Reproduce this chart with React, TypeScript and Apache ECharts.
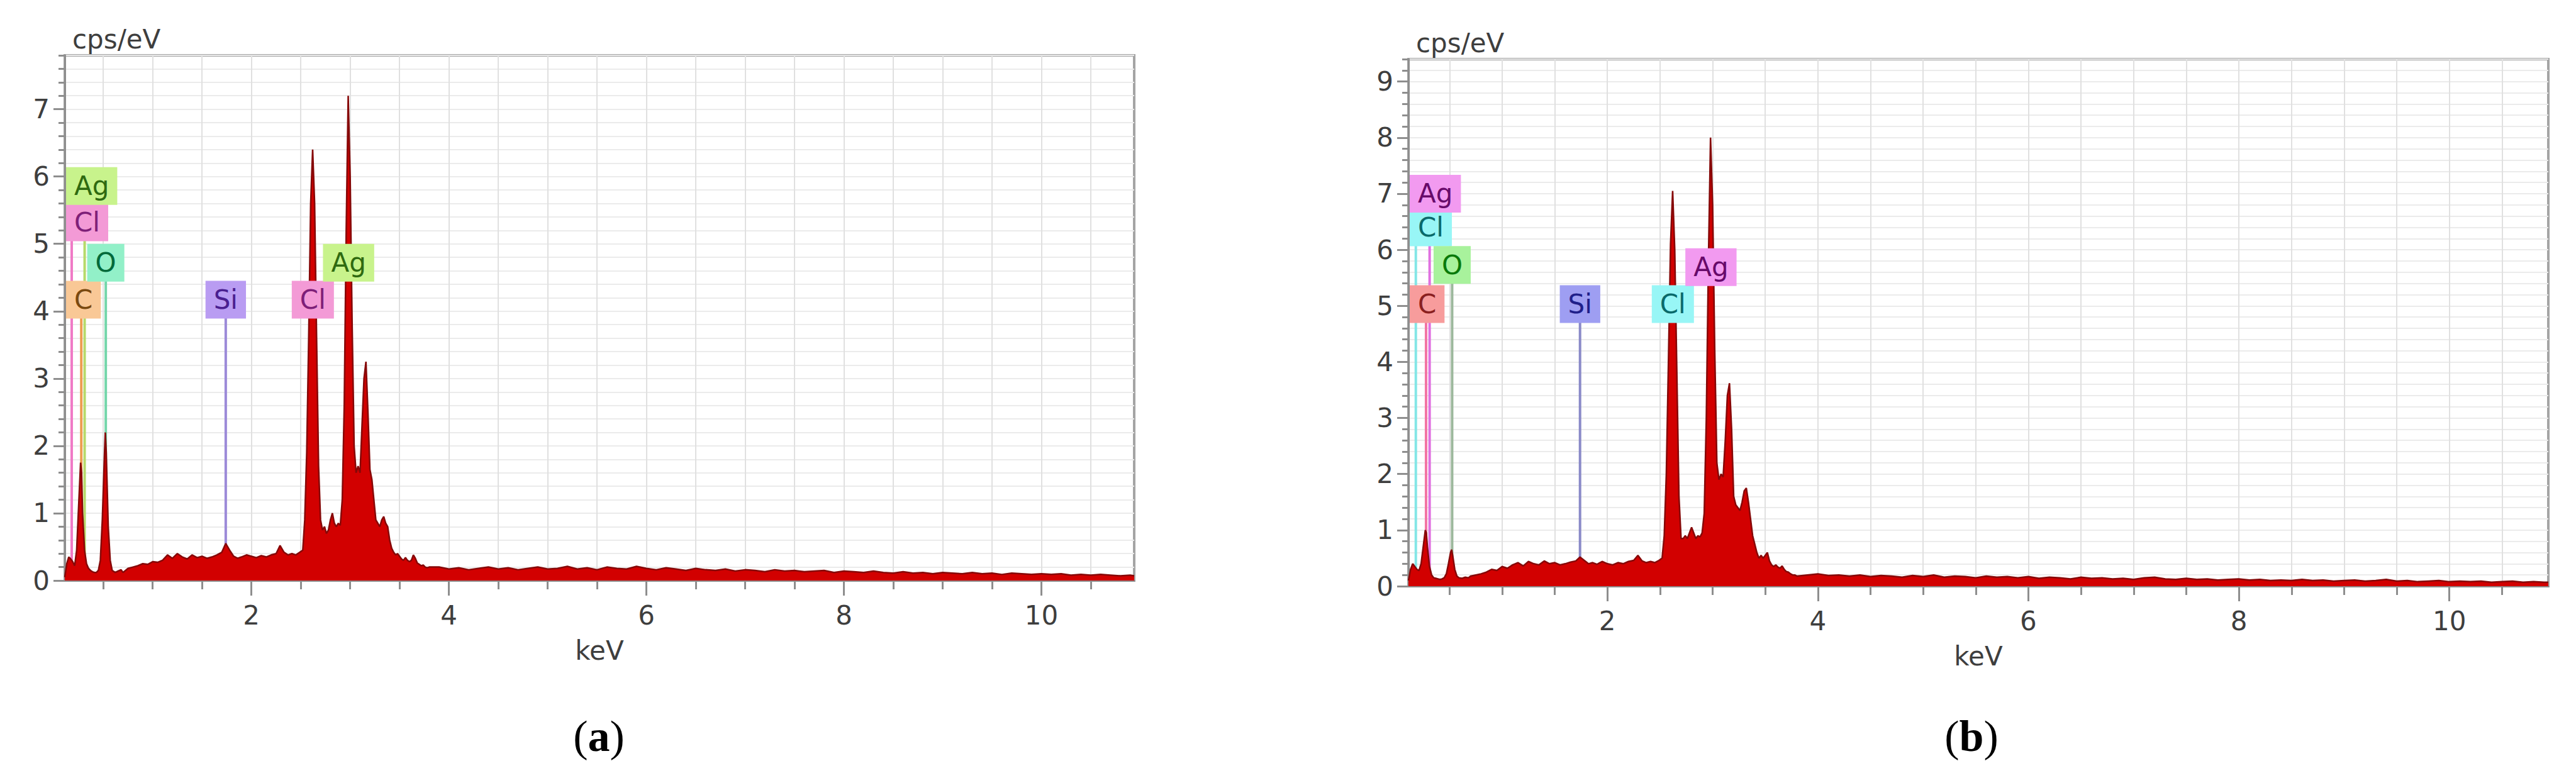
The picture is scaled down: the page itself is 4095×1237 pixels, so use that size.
import React, { useEffect, useRef } from 'react';
import * as echarts from 'echarts';

// ---------- energy grid (keV) ----------
const energyLow = [0.11, 0.13, 0.15, 0.17, 0.19, 0.21, 0.23, 0.25, 0.27, 0.28, 0.29, 0.31, 0.33, 0.35, 0.37, 0.39, 0.41, 0.43, 0.45, 0.47, 0.49, 0.51, 0.52, 0.53, 0.55, 0.57, 0.59, 0.62, 0.65, 0.68];
const energyMid = [0.70, 0.75, 0.80, 0.85, 0.90, 0.95, 1.00, 1.05, 1.10, 1.15, 1.20, 1.25, 1.30, 1.35, 1.40, 1.45, 1.50, 1.55, 1.60, 1.65, 1.70, 1.74, 1.78, 1.82, 1.86, 1.90, 1.95, 2.00, 2.05, 2.10, 2.15, 2.20, 2.25, 2.29, 2.33, 2.37, 2.41, 2.45, 2.49];
const energyPeak = [2.52, 2.54, 2.56, 2.58, 2.60, 2.62, 2.64, 2.66, 2.68, 2.70,
  2.72, 2.74, 2.76, 2.78, 2.80, 2.82, 2.84, 2.86, 2.88, 2.90,
  2.92, 2.94, 2.96, 2.98, 3.00, 3.02, 3.04, 3.06, 3.08, 3.10,
  3.12, 3.14, 3.16, 3.18, 3.20, 3.22, 3.24, 3.26, 3.28, 3.30,
  3.32, 3.34, 3.36, 3.38, 3.40, 3.42, 3.44, 3.46, 3.48, 3.50,
  3.52, 3.54, 3.56, 3.58, 3.60, 3.62, 3.64, 3.66, 3.68, 3.70,
  3.72, 3.74, 3.76, 3.78, 3.80];
const energyTail = [3.9, 4.0, 4.1, 4.2, 4.3, 4.4, 4.5, 4.6, 4.7, 4.8,
  4.9, 5.0, 5.1, 5.2, 5.3, 5.4, 5.5, 5.6, 5.7, 5.8,
  5.9, 6.0, 6.1, 6.2, 6.3, 6.4, 6.5, 6.6, 6.7, 6.8,
  6.9, 7.0, 7.1, 7.2, 7.3, 7.4, 7.5, 7.6, 7.7, 7.8,
  7.9, 8.0, 8.1, 8.2, 8.3, 8.4, 8.5, 8.6, 8.7, 8.8,
  8.9, 9.0, 9.1, 9.2, 9.3, 9.4, 9.5, 9.6, 9.7, 9.8,
  9.9, 10.0, 10.1, 10.2, 10.3, 10.4, 10.5, 10.6, 10.7, 10.8,
  10.9, 10.94];

// ---------- panel (a) counts, cps/eV ----------
const countsLowA = [0.05, 0.25, 0.35, 0.32, 0.28, 0.22, 0.45, 1.1, 1.75, 1.6, 1.0, 0.45, 0.25, 0.18, 0.15, 0.13, 0.12, 0.12, 0.15, 0.3, 0.9, 1.8, 2.2, 1.9, 0.8, 0.3, 0.15, 0.12, 0.14, 0.16];
const countsMidA = [0.12, 0.18, 0.2, 0.22, 0.25, 0.24, 0.28, 0.27, 0.3, 0.38, 0.33, 0.4, 0.35, 0.32, 0.38, 0.34, 0.36, 0.33, 0.35, 0.38, 0.42, 0.55, 0.45, 0.36, 0.33, 0.35, 0.38, 0.36, 0.34, 0.37, 0.35, 0.38, 0.4, 0.52, 0.42, 0.38, 0.4, 0.38, 0.42];
const countsPeakA = [0.45, 0.9, 1.9, 3.6, 5.6, 6.4, 5.6, 3.6, 1.7, 0.9,
  0.75, 0.8, 0.7, 0.75, 0.9, 1.0, 0.85, 0.8, 0.85, 0.82,
  1.2, 2.6, 5.2, 7.2, 6.0, 3.8, 2.0, 1.6, 1.7, 1.6,
  2.3, 3.0, 3.25, 2.5, 1.65, 1.5, 1.2, 0.9, 0.85, 0.8,
  0.9, 0.95, 0.85, 0.8, 0.6, 0.48, 0.42, 0.38, 0.4, 0.36,
  0.32, 0.3, 0.34, 0.3, 0.28, 0.3, 0.38, 0.33, 0.26, 0.24,
  0.22, 0.23, 0.2, 0.19, 0.2];
const countsTailA = [0.2, 0.17, 0.19, 0.16, 0.18, 0.2, 0.17, 0.19, 0.16, 0.18,
  0.2, 0.17, 0.18, 0.21, 0.17, 0.19, 0.16, 0.2, 0.18, 0.17,
  0.21, 0.18, 0.16, 0.19, 0.17, 0.15, 0.18, 0.16, 0.15, 0.17,
  0.14, 0.16, 0.15, 0.13, 0.16, 0.14, 0.15, 0.13, 0.14, 0.15,
  0.12, 0.14, 0.13, 0.12, 0.14, 0.12, 0.11, 0.13, 0.11, 0.12,
  0.1, 0.12, 0.11, 0.1, 0.12, 0.1, 0.11, 0.09, 0.11, 0.1,
  0.09, 0.1, 0.09, 0.1, 0.08, 0.09, 0.08, 0.09, 0.08, 0.07,
  0.08, 0.07];

// ---------- panel (b) counts, cps/eV ----------
const countsLowB = [0.1, 0.3, 0.4, 0.35, 0.3, 0.28, 0.4, 0.7, 1.0, 0.95, 0.7, 0.35, 0.2, 0.15, 0.14, 0.13, 0.12, 0.13, 0.15, 0.22, 0.4, 0.6, 0.65, 0.55, 0.3, 0.18, 0.15, 0.14, 0.16, 0.15];
const countsMidB = [0.18, 0.2, 0.22, 0.25, 0.3, 0.28, 0.35, 0.32, 0.38, 0.42, 0.36, 0.44, 0.4, 0.38, 0.45, 0.4, 0.42, 0.38, 0.4, 0.43, 0.45, 0.52, 0.46, 0.4, 0.42, 0.39, 0.44, 0.4, 0.38, 0.42, 0.4, 0.44, 0.46, 0.55, 0.45, 0.42, 0.44, 0.42, 0.46];
const countsPeakB = [0.5, 0.9, 2.0, 4.0, 6.1, 7.05, 6.0, 3.8, 1.6, 0.85,
  0.85, 0.9, 0.85, 0.95, 1.05, 0.95, 0.85, 0.9, 0.88, 0.95,
  1.3, 3.0, 5.8, 8.0, 6.8, 4.2, 2.2, 1.9, 2.0, 1.95,
  2.6, 3.4, 3.62, 2.8, 1.6, 1.45, 1.4, 1.35, 1.5, 1.7,
  1.75, 1.5, 1.2, 0.9, 0.75, 0.6, 0.5, 0.55, 0.5, 0.55,
  0.6, 0.45, 0.38, 0.35, 0.38, 0.34, 0.32, 0.36, 0.3, 0.26,
  0.25, 0.22, 0.2, 0.2, 0.18];
const countsTailB = [0.2, 0.22, 0.19, 0.2, 0.18, 0.2, 0.17, 0.19, 0.18, 0.16,
  0.19, 0.17, 0.2, 0.16, 0.18, 0.17, 0.15, 0.18, 0.16, 0.17,
  0.15, 0.17, 0.14, 0.16, 0.15, 0.13, 0.16, 0.14, 0.15, 0.13,
  0.14, 0.12, 0.15, 0.16, 0.13, 0.12, 0.14, 0.12, 0.13, 0.11,
  0.12, 0.13, 0.11, 0.12, 0.1, 0.11, 0.1, 0.12, 0.1, 0.11,
  0.09, 0.1, 0.11, 0.09, 0.1, 0.12, 0.09, 0.1, 0.08, 0.09,
  0.1, 0.08, 0.09, 0.08, 0.09, 0.07, 0.08, 0.09, 0.07, 0.08,
  0.07, 0.07];

// ---------- axes ----------
const xMin = 0.11;
const xMax = 10.94;
const xMajorTicks = [2, 4, 6, 8, 10];
const xMinorTicks = [0.5, 1, 1.5, 2, 2.5, 3, 3.5, 4, 4.5, 5, 5.5, 6, 6.5, 7, 7.5, 8, 8.5, 9, 9.5, 10, 10.5];
const yMaxA = 7.8;
const yMaxB = 9.4;
const yTicksA = [0, 1, 2, 3, 4, 5, 6, 7];
const yTicksB = [0, 1, 2, 3, 4, 5, 6, 7, 8, 9];

// ---------- element markers ----------
const elementNames = ['Cl', 'C', 'Ag', 'O', 'Si', 'Cl', 'Ag'];
const elementEnergy = [0.18, 0.277, 0.311, 0.525, 1.74, 2.622, 2.984];
const labelLevelA = [5.32, 4.17, 5.86, 4.72, 4.17, 4.17, 4.72];
const labelLevelB = [6.4, 5.03, 7.0, 5.73, 5.03, 5.03, 5.69];

const paletteA: Record<string, { bg: string; fg: string; line: string }> = {
  Ag: { bg: '#c8f38c', fg: '#2f6a10', line: '#b6da6a' },
  Cl: { bg: '#f39ad6', fg: '#7e1f78', line: '#f07ac6' },
  O: { bg: '#92f0c8', fg: '#006a3a', line: '#74d6aa' },
  C: { bg: '#f9c896', fg: '#7a4a10', line: '#ee9c50' },
  Si: { bg: '#b99cf2', fg: '#4a1f90', line: '#9c8ad8' },
};
const paletteB: Record<string, { bg: string; fg: string; line: string }> = {
  Ag: { bg: '#f29af0', fg: '#680a6a', line: '#e070e0' },
  Cl: { bg: '#98f6f6', fg: '#0a6a6a', line: '#84e6e6' },
  O: { bg: '#a8f29c', fg: '#0a7a0a', line: '#9cb89c' },
  C: { bg: '#f79c9c', fg: '#8a2020', line: '#f274a4' },
  Si: { bg: '#9e9ef2', fg: '#20208a', line: '#8a8ac8' },
};

const FONT = 'DejaVu Sans';
const AXIS_GREY = '#8e8e8e';
const TEXT_GREY = '#3e3e3e';
const LABEL_SIZE = 42;
const PAD_X = 13;
const PAD_Y = 9;

let measureCtx: CanvasRenderingContext2D | null = null;
function textWidth(t: string): number {
  if (!measureCtx) measureCtx = document.createElement('canvas').getContext('2d');
  if (!measureCtx) return t.length * LABEL_SIZE * 0.65;
  measureCtx.font = `${LABEL_SIZE}px "${FONT}"`;
  return measureCtx.measureText(t).width;
}

function buildSpectrum(low: number[], mid: number[], peak: number[], tail: number[]) {
  const e = [...energyLow, ...energyMid, ...energyPeak, ...energyTail];
  const c = [...low, ...mid, ...peak, ...tail];
  return e.map((x, i) => [x, c[i]]);
}

function xAxes(gi: number) {
  return [
    {
      type: 'value', gridIndex: gi, min: xMin, max: xMax, position: 'bottom',
      axisLine: { show: true, onZero: false, lineStyle: { color: AXIS_GREY, width: 3 } },
      axisTick: { show: true, customValues: xMinorTicks, length: 14, lineStyle: { color: AXIS_GREY, width: 3 } },
      axisLabel: { show: false },
      splitLine: { show: true, lineStyle: { color: '#e0e0e0', width: 2 } },
    },
    {
      type: 'value', gridIndex: gi, min: xMin, max: xMax, position: 'bottom',
      axisLine: { show: false },
      axisTick: { show: true, customValues: xMajorTicks, length: 24, lineStyle: { color: AXIS_GREY, width: 3 } },
      axisLabel: { show: true, customValues: xMajorTicks, fontSize: 42, fontFamily: FONT, color: TEXT_GREY, margin: 34 },
      splitLine: { show: false },
      name: 'keV', nameLocation: 'middle', nameGap: 90,
      nameTextStyle: { fontSize: 42, fontFamily: FONT, color: TEXT_GREY },
    },
  ];
}

function yAxes(gi: number, yMax: number, yTicks: number[]) {
  return [
    {
      type: 'value', gridIndex: gi, min: 0, max: yMax, interval: 0.2, position: 'left',
      axisLine: { show: true, onZero: false, lineStyle: { color: AXIS_GREY, width: 3 } },
      axisTick: { show: true, length: 10, lineStyle: { color: AXIS_GREY, width: 3 } },
      axisLabel: { show: false },
      splitLine: { show: true, lineStyle: { color: '#ebebeb', width: 2 } },
    },
    {
      type: 'value', gridIndex: gi, min: 0, max: yMax, interval: 1, position: 'left',
      axisLine: { show: false },
      axisTick: { show: true, customValues: yTicks, length: 18, lineStyle: { color: AXIS_GREY, width: 3 } },
      axisLabel: { show: true, customValues: yTicks, fontSize: 42, fontFamily: FONT, color: TEXT_GREY, margin: 24 },
      splitLine: { show: false },
      name: 'cps/eV', nameLocation: 'end', nameGap: 5,
      nameTextStyle: { fontSize: 42, fontFamily: FONT, color: TEXT_GREY, align: 'left', padding: [0, 0, 0, 12] },
    },
  ];
}

function markerSeries(axisIdx: number, levels: number[], palette: typeof paletteA) {
  const data = elementEnergy.map((e, i) => [e, levels[i], i]);
  return [
    {
      type: 'custom', xAxisIndex: axisIdx, yAxisIndex: axisIdx, silent: true, z: 1, clip: false,
      data,
      renderItem: (params: any, api: any) => {
        const name = elementNames[api.value(2)];
        const base = api.coord([api.value(0), 0]);
        const top = api.coord([api.value(0), api.value(1)]);
        return {
          type: 'line',
          shape: { x1: base[0], y1: base[1], x2: top[0], y2: top[1] },
          style: { stroke: palette[name].line, lineWidth: 4 },
        };
      },
    },
    {
      type: 'custom', xAxisIndex: axisIdx, yAxisIndex: axisIdx, silent: true, z: 5, clip: false,
      data,
      renderItem: (params: any, api: any) => {
        const name = elementNames[api.value(2)];
        const p = api.coord([api.value(0), api.value(1)]);
        const cs = params.coordSys;
        const w = textWidth(name) + 2 * PAD_X;
        const cx = Math.max(cs.x + w / 2 + 2, p[0]);
        return {
          type: 'text',
          x: cx,
          y: p[1],
          style: {
            text: name, fill: palette[name].fg, fontSize: LABEL_SIZE, fontFamily: FONT,
            align: 'center', verticalAlign: 'middle',
            backgroundColor: palette[name].bg, padding: [PAD_Y, PAD_X],
          },
        };
      },
    },
  ];
}

function spectrumSeries(axisIdx: number, data: number[][]) {
  return {
    type: 'line', xAxisIndex: axisIdx, yAxisIndex: axisIdx, data,
    symbol: 'none', showSymbol: false, smooth: false, z: 3, silent: true,
    lineStyle: { color: '#860808', width: 2.5 },
    areaStyle: { color: '#d20000', opacity: 1 },
  };
}

function caption(x: number, y: number, letter: string) {
  return {
    type: 'text', x, y, z: 10,
    style: {
      text: `{n|(}{b|${letter}}{n|)}`,
      align: 'center', verticalAlign: 'middle',
      rich: {
        n: { fontFamily: 'Liberation Serif', fontSize: 70, fill: '#000' },
        b: { fontFamily: 'Liberation Serif', fontSize: 70, fontWeight: 'bold', fill: '#000' },
      },
    },
  };
}

export default function App() {
  const ref = useRef<HTMLDivElement>(null);

  useEffect(() => {
    if (!ref.current) return;
    const chart = echarts.init(ref.current, undefined, { renderer: 'svg' });
    const specA = buildSpectrum(countsLowA, countsMidA, countsPeakA, countsTailA);
    const specB = buildSpectrum(countsLowB, countsMidB, countsPeakB, countsTailB);

    const option: any = {
      animation: false,
      backgroundColor: '#ffffff',
      textStyle: { fontFamily: FONT },
      grid: [
        { left: 103, top: 88, width: 1700, height: 835, show: true, backgroundColor: '#ffffff', borderColor: '#a4a4a4', borderWidth: 4, containLabel: false, outerBoundsMode: 'none' },
        { left: 2239, top: 94, width: 1812, height: 838, show: true, backgroundColor: '#ffffff', borderColor: '#a4a4a4', borderWidth: 4, containLabel: false, outerBoundsMode: 'none' },
      ],
      xAxis: [...xAxes(0), ...xAxes(1)],
      yAxis: [...yAxes(0, yMaxA, yTicksA), ...yAxes(1, yMaxB, yTicksB)],
      series: [
        ...markerSeries(0, labelLevelA, paletteA),
        spectrumSeries(0, specA),
        ...markerSeries(2, labelLevelB, paletteB),
        spectrumSeries(2, specB),
      ],
      graphic: [caption(952, 1170, 'a'), caption(3134, 1170, 'b')],
    };
    chart.setOption(option);
    return () => chart.dispose();
  }, []);

  return (
    <div
      ref={ref}
      style={{ position: 'absolute', left: 0, top: 0, width: 4095, height: 1237, background: '#fff' }}
    />
  );
}
